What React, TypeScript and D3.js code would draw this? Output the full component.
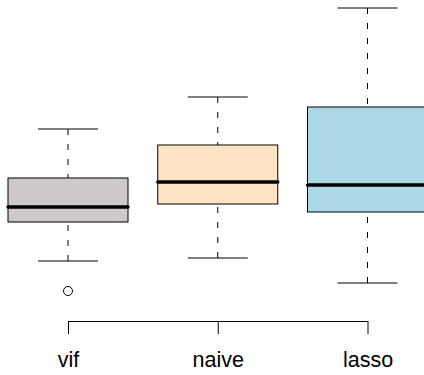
import React, { useEffect, useRef } from "react";
import * as d3 from "d3";

// groups and five-number summaries
const groups = ["vif", "naive", "lasso"];
const lowWhisker = [0.69, 0.72, 0.47];
const lowerQuartile = [1.08, 1.26, 1.18];
const medians = [1.23, 1.48, 1.45];
const upperQuartile = [1.52, 1.85, 2.23];
const highWhisker = [2.01, 2.33, 3.22];
const outliers = [[0.39], [], []];
const fills = ["#cdc9c9", "#ffe4c4", "#add8e6"];

const W = 424;
const H = 375;

const App = () => {
  const ref = useRef<SVGSVGElement>(null);

  useEffect(() => {
    document.body.style.margin = "0";
    const svg = d3.select(ref.current);
    svg.selectAll("*").remove();

    const x = d3.scalePoint<string>().domain(groups).range([68, 367.5]);
    const y = d3.scaleLinear().domain([0, 3.3]).range([330, 0]);
    const boxHalf = 60;
    const capHalf = 30;

    const data = groups.map((g, i) => ({
      g,
      lo: lowWhisker[i],
      q1: lowerQuartile[i],
      med: medians[i],
      q3: upperQuartile[i],
      hi: highWhisker[i],
      out: outliers[i],
      fill: fills[i],
    }));

    const g = svg.selectAll("g.box").data(data).enter().append("g").attr("class", "box");

    // whiskers, drawn from the cap toward the box
    g.append("line")
      .attr("x1", d => x(d.g)!).attr("x2", d => x(d.g)!)
      .attr("y1", d => y(d.lo)).attr("y2", d => y(d.q1))
      .attr("stroke", "#000").attr("stroke-dasharray", "6 9");
    g.append("line")
      .attr("x1", d => x(d.g)!).attr("x2", d => x(d.g)!)
      .attr("y1", d => y(d.hi)).attr("y2", d => y(d.q3))
      .attr("stroke", "#000").attr("stroke-dasharray", "6 9");

    // caps
    [(d: any) => d.lo, (d: any) => d.hi].forEach(acc => {
      g.append("line")
        .attr("x1", d => x(d.g)! - capHalf).attr("x2", d => x(d.g)! + capHalf)
        .attr("y1", d => y(acc(d))).attr("y2", d => y(acc(d)))
        .attr("stroke", "#000");
    });

    g.append("rect")
      .attr("x", d => x(d.g)! - boxHalf)
      .attr("width", boxHalf * 2)
      .attr("y", d => y(d.q3))
      .attr("height", d => y(d.q1) - y(d.q3))
      .attr("fill", d => d.fill)
      .attr("stroke", "#000");

    g.append("line")
      .attr("x1", d => x(d.g)! - boxHalf).attr("x2", d => x(d.g)! + boxHalf)
      .attr("y1", d => y(d.med)).attr("y2", d => y(d.med))
      .attr("stroke", "#000").attr("stroke-width", 3.5).attr("stroke-linecap", "round");

    g.selectAll("circle")
      .data(d => d.out.map(v => ({ g: d.g, v })))
      .enter().append("circle")
      .attr("cx", d => x(d.g)!)
      .attr("cy", d => y(d.v))
      .attr("r", 4.5)
      .attr("fill", "none")
      .attr("stroke", "#000");

    // bottom axis
    const axis = svg.append("g").attr("transform", "translate(0,321)");
    axis.call(d3.axisBottom(x).tickSize(13).tickSizeOuter(0).tickPadding(18));
    axis.select(".domain").attr("stroke", "#000");
    axis.selectAll(".tick line").attr("stroke", "#000");
    axis.selectAll(".tick text")
      .attr("font-family", "'Liberation Sans', Arial, Helvetica, sans-serif")
      .attr("font-size", 21.5)
      .attr("fill", "#000");
  }, []);

  return <svg ref={ref} width={W} height={H} style={{ display: "block" }}></svg>;
};

export default App;
